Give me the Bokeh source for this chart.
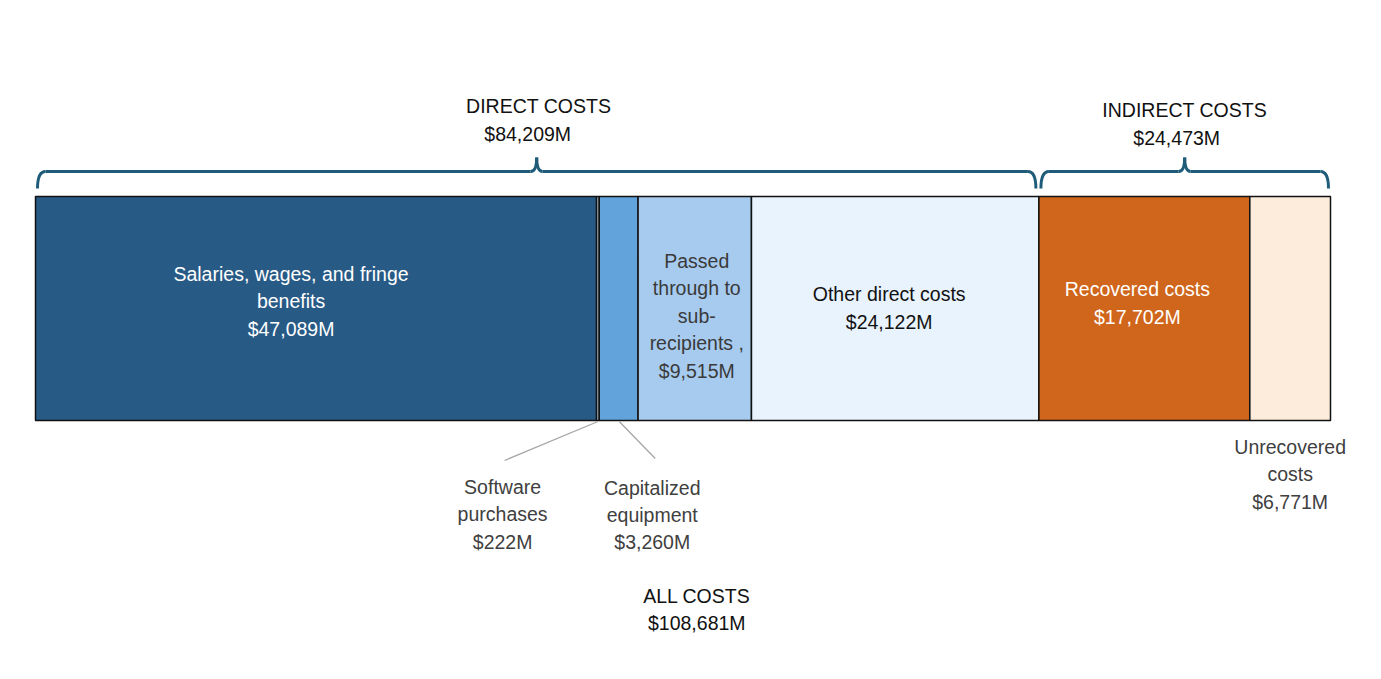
from bokeh.plotting import figure
from bokeh.models import Range1d, ColumnDataSource
from bokeh.core.properties import value
from bokeh.embed import file_html
from bokeh.resources import INLINE
import numpy as np

# ---------------- data ----------------
categories = ["Salaries, wages, and fringe benefits", "Software purchases", "Capitalized equipment",
              "Passed through to sub-recipients", "Other direct costs", "Recovered costs", "Unrecovered costs"]
values = [47089, 222, 3260, 9515, 24122, 17702, 6771]
colors = ["#285a86", "#b9cfe3", "#62a3dc", "#a7cbef", "#e8f3fd", "#d0661b", "#fdebdc"]
direct_total = 84209
indirect_total = 24473
all_total = 108681

label_lines = [
    ["Salaries, wages, and fringe", "benefits", "$47,089M"],
    ["Software", "purchases", "$222M"],
    ["Capitalized", "equipment", "$3,260M"],
    ["Passed", "through to", "sub-", "recipients ,", "$9,515M"],
    ["Other direct costs", "$24,122M"],
    ["Recovered costs", "$17,702M"],
    ["Unrecovered", "costs", "$6,771M"],
]

# ---------------- layout ----------------
W, H = 1365, 663
BAR_L, BAR_R = 35, 1330          # image pixel extent of the full bar
OFF = 0
scale = (BAR_R - BAR_L) / sum(values)   # px per $M
x_start = -(BAR_L - OFF) / scale
x_end = (OFF + W - BAR_L) / scale

def dpx(px):
    return px / scale

p = figure(width=W, height=H, output_backend="svg", toolbar_location=None,
           x_range=Range1d(x_start, x_end), y_range=Range1d(OFF + H, OFF),
           min_border=0, outline_line_color=None)
p.axis.visible = False
p.grid.visible = False
p.background_fill_color = "white"

cum = np.cumsum([0] + values)
lefts = cum[:-1]
rights = cum[1:]
src = ColumnDataSource(dict(left=lefts, right=rights, y=[308] * len(values), color=colors))
p.hbar(y="y", left="left", right="right", height=224, fill_color="color",
       line_color="#111111", line_width=1.5, source=src)

FONT = value("Liberation Sans")
FS = "19.5px"

def draw_lines(lines, xs, ys, color):
    p.text(x=xs, y=ys, text=lines, text_align="center", text_baseline="middle",
           text_font=FONT, text_font_size=FS, text_color=color)

centers = (lefts + rights) / 2
inside_cfg = {
    0: (-25, 273, 27.5, "white"),
    3: (2, 260, 27.5, "#3a3a3a"),
    4: (-6, 293, 28, "#111111"),
    5: (-7, 288, 28, "white"),
}
for i, (dx, y0, sp, col) in inside_cfg.items():
    lines = label_lines[i]
    xs = [centers[i] + dpx(dx)] * len(lines)
    ys = [y0 + k * sp for k in range(len(lines))]
    draw_lines(lines, xs, ys, col)

outside_cfg = {
    1: (lefts[1] - dpx(94), 486, 27.5),
    2: (lefts[2] + dpx(53), 487, 27),
    6: (centers[6], 446, 27.5),
}
for i, (xc, y0, sp) in outside_cfg.items():
    lines = label_lines[i]
    xs = [xc] * len(lines)
    ys = [y0 + k * sp for k in range(len(lines))]
    draw_lines(lines, xs, ys, "#404040")

# leader lines
p.segment(x0=[lefts[1] + values[1] / 2, lefts[2] + dpx(20)], y0=[421, 421],
          x1=[lefts[1] - dpx(92), lefts[2] + dpx(56)], y1=[460, 458],
          line_color="#a6a6a6", line_width=1.3)

# braces
BR = "#1f5c7a"
def brace(x0, x1, yb=171):
    xm = (x0 + x1) / 2
    r = dpx(8)
    tip = dpx(6)
    p.segment(x0=[x0 + r, xm + tip], y0=[yb, yb], x1=[xm - tip, x1 - r], y1=[yb, yb],
              line_color=BR, line_width=3)
    p.quadratic(x0=[x0, x1], y0=[yb + 17, yb + 17], x1=[x0 + r, x1 - r], y1=[yb, yb],
                cx=[x0, x1], cy=[yb, yb], line_color=BR, line_width=3)
    p.quadratic(x0=[xm - tip, xm + tip], y0=[yb, yb], x1=[xm, xm], y1=[yb - 14, yb - 14],
                cx=[xm, xm], cy=[yb, yb], line_color=BR, line_width=3)
    return xm

d0 = 0 + dpx(2)
d1 = direct_total - dpx(3)
xm_d = brace(d0, d1)
i0 = direct_total + dpx(2)
i1 = all_total - dpx(2)
xm_i = brace(i0, i1)

def fmt(v):
    return "${:,}M".format(v)

draw_lines(["DIRECT COSTS", fmt(direct_total)], [xm_d + dpx(2), xm_d - dpx(9)], [105, 133], "#111111")
draw_lines(["INDIRECT COSTS", fmt(indirect_total)], [xm_i, xm_i - dpx(8)], [109, 137], "#111111")
draw_lines(["ALL COSTS", fmt(all_total)], [centers[3] + dpx(2), centers[3] + dpx(2)], [595, 622], "#111111")

open("out.html", "w").write(file_html(p, INLINE))
